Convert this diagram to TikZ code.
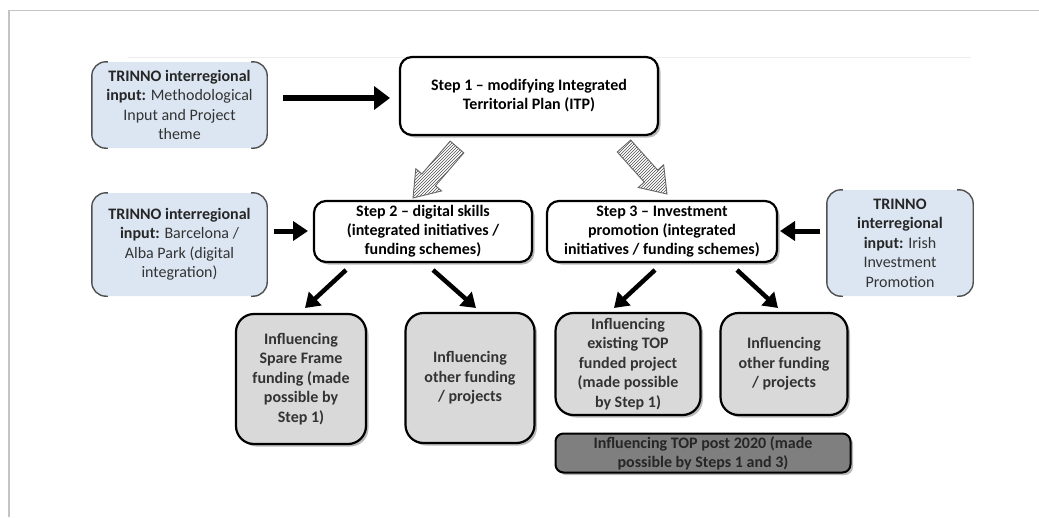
\documentclass[tikz,border=0pt]{standalone}
\usepackage{fontspec}
\setmainfont{Carlito}
\usetikzlibrary{arrows.meta,shadows,patterns,calc}
\definecolor{boxblue}{HTML}{DCE6F2}
\definecolor{bracketgray}{HTML}{505050}
\definecolor{lightfill}{HTML}{D9D9D9}
\definecolor{darkfill}{HTML}{7F7F7F}
\definecolor{txtgray}{HTML}{333333}
\definecolor{framegray}{HTML}{C4C4C4}
\begin{document}
\begin{tikzpicture}[x=1pt,y=-1pt,
  stepbox/.style={font=\bfseries\fontsize{16}{19}\selectfont, draw=black, line width=2.2pt, rounded corners=12pt, fill=white, align=center, inner sep=0pt,
    drop shadow={shadow xshift=2.5pt, shadow yshift=-2.5pt, opacity=0.45, fill=black!60}},
  inputbox/.style={font=\fontsize{16}{19.5}\selectfont, fill=boxblue, rounded corners=14pt, align=center, inner sep=0pt, text=txtgray},
  outbox/.style={font=\bfseries\fontsize{16}{19.5}\selectfont, draw=black, line width=2.2pt, rounded corners=18pt, fill=lightfill, align=center, inner sep=0pt, text=txtgray,
    drop shadow={shadow xshift=2.5pt, shadow yshift=-2.5pt, opacity=0.45, fill=black!60}},
  postbox/.style={font=\bfseries\fontsize{16}{19}\selectfont, draw=black, line width=2pt, rounded corners=8pt, fill=darkfill, align=center, inner sep=0pt, text=black!85,
    drop shadow={shadow xshift=2.5pt, shadow yshift=-2.5pt, opacity=0.45, fill=black!60}},
  bracket/.style={draw=bracketgray, line width=1.4pt, rounded corners=14pt},
  bigarrow/.style={line width=5.5pt, -{Triangle[length=16pt,width=23pt]}},
  midarrow/.style={line width=5pt, -{Triangle[length=15pt,width=19pt]}},
  diagarrow/.style={line width=4.5pt, -{Triangle[length=14pt,width=18pt]}},
  hatcharrow/.style={draw=black!60, line width=0.9pt, pattern=north east lines, pattern color=black!70}
]
\useasboundingbox (0,0) rectangle (1039,517);
% frame
\draw[framegray, line width=1.5pt] (1039,10.5) -- (9,10.5) -- (9,517);
\draw[black!7, line width=1pt] (128,57) -- (971,57);

% input boxes
\node[inputbox, minimum width=175pt, minimum height=86pt] (A) at (179.5,105)
  {\textbf{\color{black!85}TRINNO interregional}\\\textbf{\color{black!85}input:} Methodological\\Input and Project\\theme};
\node[inputbox, minimum width=175pt, minimum height=103pt] (B) at (179.5,244.5)
  {\textbf{\color{black!85}TRINNO interregional}\\\textbf{\color{black!85}input:} Barcelona /\\Alba Park (digital\\integration)};
\node[inputbox, minimum width=146pt, minimum height=106pt] (C) at (900,243)
  {\textbf{\color{black!85}TRINNO}\\\textbf{\color{black!85}interregional}\\\textbf{\color{black!85}input:} Irish\\Investment\\Promotion};
\foreach \n in {A,B,C}{
  \draw[bracket] ([xshift=16pt]\n.north west) -- (\n.north west) -- (\n.south west) -- ([xshift=16pt]\n.south west);
  \draw[bracket] ([xshift=-16pt]\n.north east) -- (\n.north east) -- (\n.south east) -- ([xshift=-16pt]\n.south east);
}

% step boxes
\node[stepbox, minimum width=258pt, minimum height=78pt] (S1) at (529,96)
  {Step 1 -- modifying Integrated\\Territorial Plan (ITP)};
\node[stepbox, minimum width=218pt, minimum height=61pt] (S2) at (423,231.5)
  {Step 2 -- digital skills\\(integrated initiatives /\\funding schemes)};
\node[stepbox, minimum width=230pt, minimum height=61pt] (S3) at (662,231.5)
  {Step 3 -- Investment\\promotion (integrated\\initiatives / funding schemes)};

% outcome boxes
\node[outbox, minimum width=130pt, minimum height=130pt] (D1) at (301,379)
  {Influencing\\Spare Frame\\funding (made\\possible by\\Step 1)};
\node[outbox, minimum width=129pt, minimum height=130pt] (D2) at (470,378)
  {Influencing\\other funding\\/ projects};
\node[outbox, minimum width=145pt, minimum height=102pt] (D3) at (628,364)
  {Influencing\\existing TOP\\funded project\\(made possible\\by Step 1)};
\node[outbox, minimum width=127pt, minimum height=102pt] (D4) at (784,364)
  {Influencing\\other funding\\/ projects};
\node[postbox, minimum width=295pt, minimum height=39pt] (E) at (703,453)
  {Influencing TOP post 2020 (made\\possible by Steps 1 and 3)};

% black arrows
\coordinate (a1s) at (283,98);   \coordinate (a1e) at (390,98);
\coordinate (a2s) at (274,231);  \coordinate (a2e) at (308,231);
\coordinate (a3s) at (820,231);  \coordinate (a3e) at (780,231);
\draw[bigarrow] (a1s) -- (a1e);
\draw[midarrow] (a2s) -- (a2e);
\draw[midarrow] (a3s) -- (a3e);

\coordinate (d1s) at (346,270); \coordinate (d1e) at (305,308);
\coordinate (d2s) at (433,270); \coordinate (d2e) at (476,308);
\coordinate (d3s) at (655,270); \coordinate (d3e) at (614,308);
\coordinate (d4s) at (737,270); \coordinate (d4e) at (778,308);
\draw[diagarrow] (d1s) -- (d1e);
\draw[diagarrow] (d2s) -- (d2e);
\draw[diagarrow] (d3s) -- (d3e);
\draw[diagarrow] (d4s) -- (d4e);

% hatched arrows
\coordinate (h1s) at (457,147); \coordinate (h1e) at (413,198);
\coordinate (h2s) at (624,146); \coordinate (h2e) at (667,194);
\coordinate (h1b) at ($(h1e)!24pt!(h1s)$);
\coordinate (h2b) at ($(h2e)!24pt!(h2s)$);
\foreach \s/\e/\b in {h1s/h1e/h1b, h2s/h2e/h2b}{
  \draw[hatcharrow] ($(\s)!9pt!90:(\e)$) -- ($(\b)!9pt!90:(\e)$) -- ($(\b)!17pt!90:(\e)$) -- (\e)
    -- ($(\b)!17pt!-90:(\e)$) -- ($(\b)!9pt!-90:(\e)$) -- ($(\s)!9pt!-90:(\e)$) -- cycle;
}
\end{tikzpicture}
\end{document}
